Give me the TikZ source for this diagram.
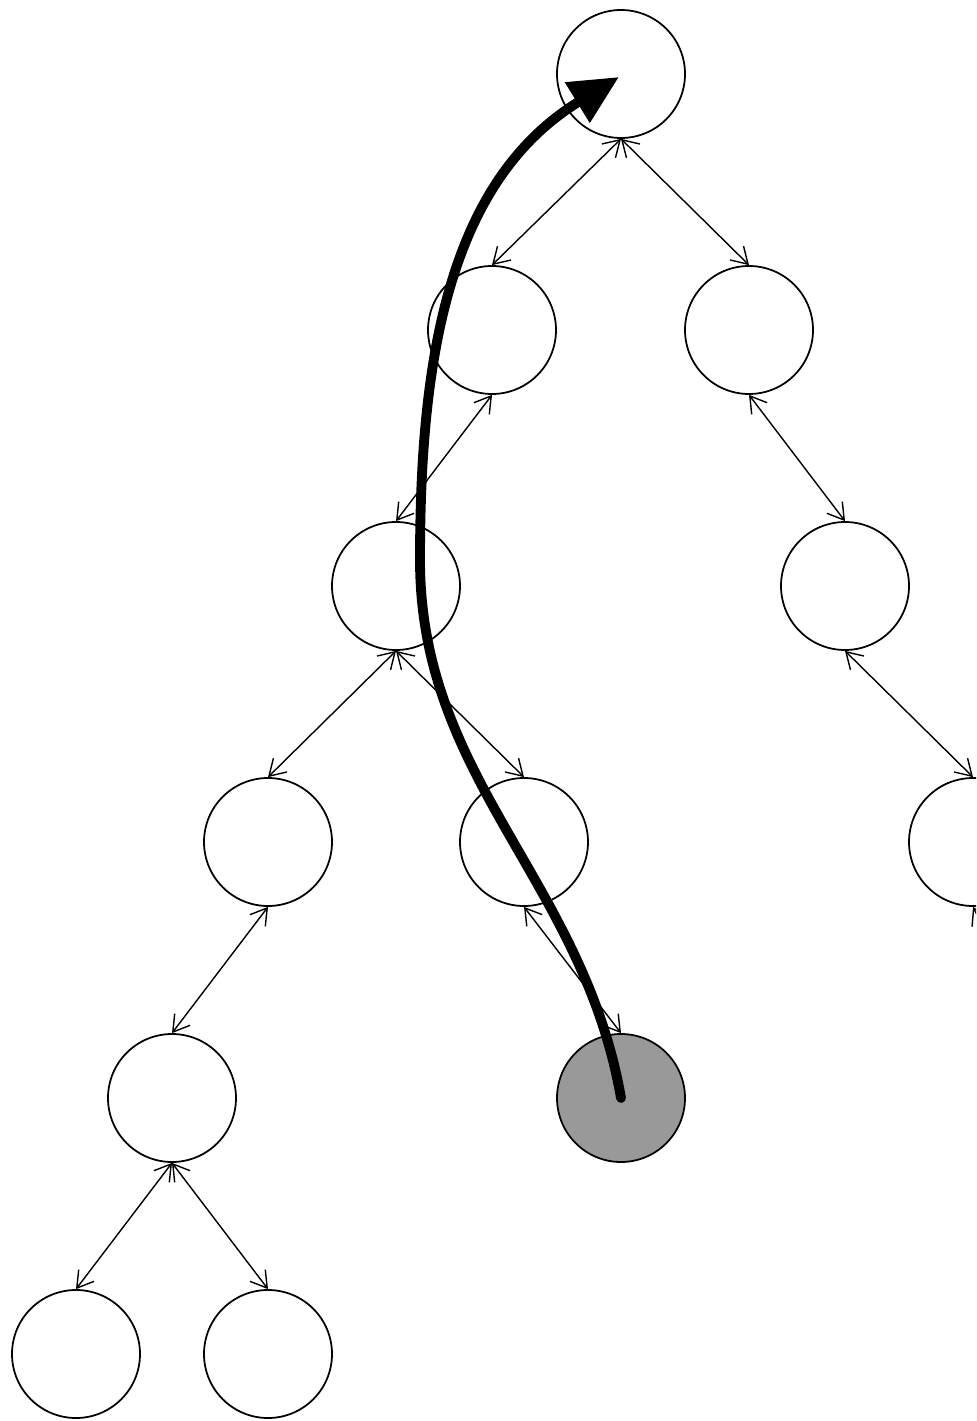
\documentclass[tikz,border=0pt]{standalone}
\usepackage{tikz}
\usetikzlibrary{arrows.meta, positioning}
\definecolor{markgray}{RGB}{153, 153, 153}

\begin{document}
\begin{tikzpicture}[
    tn/.style={circle, draw, line width=0.5pt, minimum size=1.28cm, inner sep=0pt},
    hit/.style={tn, fill=markgray},
    link/.style={{Straight Barb[length=4.5pt, width=5.5pt]}-{Straight Barb[length=4.5pt, width=5.5pt]}, line width=0.4pt},
    jump/.style={-{Triangle[length=0.49cm, width=0.45cm]}, line width=2.8pt, line cap=round},
    node distance=2.56cm and 1.28cm, on grid,
]
\useasboundingbox (0,0) rectangle (9.76,-14.21);
\clip (0,0) rectangle (9.76,-14.21);

% Tree nodes
\node[tn] (root) at (6.21,-0.74) {};
\node[tn, below left=2.56cm and 1.29cm of root] (l1) {};
\node[tn, below right=2.56cm and 1.28cm of root] (r1) {};
\node[tn, below left=2.56cm and 0.96cm of l1] (l2) {};
\node[tn, below right=2.56cm and 0.96cm of r1] (r2) {};
\node[tn, below left=2.56cm and 1.28cm of l2] (l3a) {};
\node[tn, below right=2.56cm and 1.28cm of l2] (l3b) {};
\node[tn, below right=2.56cm and 1.28cm of r2] (r3) {};
\node[tn, below left=2.56cm and 0.96cm of l3a] (l4) {};
\node[hit, below right=2.56cm and 0.97cm of l3b] (cur) {};
\node[tn, below left=2.56cm and 0.96cm of l4] (l5a) {};
\node[tn, below right=2.56cm and 0.96cm of l4] (l5b) {};
\coordinate[below right=2.56cm and 0.96cm of r3] (r4);

% Links
\draw[link] (root.south) -- (l1.north);
\draw[link] (root.south) -- (r1.north);
\draw[link] (l1.south) -- (l2.north);
\draw[link] (r1.south) -- (r2.north);
\draw[link] (l2.south) -- (l3a.north);
\draw[link] (l2.south) -- (l3b.north);
\draw[link] (r2.south) -- (r3.north);
\draw[link] (l3a.south) -- (l4.north);
\draw[link] (l3b.south) -- (cur.north);
\draw[link] (l4.south) -- (l5a.north);
\draw[link] (l4.south) -- (l5b.north);
\draw[link] (r3.south) -- (r4);

% Jump back to the root
\coordinate (bend) at (4.20,-5.60);
\draw[jump] (cur.center) .. controls (5.83,-8.80) and (4.20,-7.80) .. (bend)
    .. controls (4.20,-3.60) and (4.48,-1.82) .. ([xshift=-0.02cm, yshift=-0.03cm]root.center);

\end{tikzpicture}
\end{document}
